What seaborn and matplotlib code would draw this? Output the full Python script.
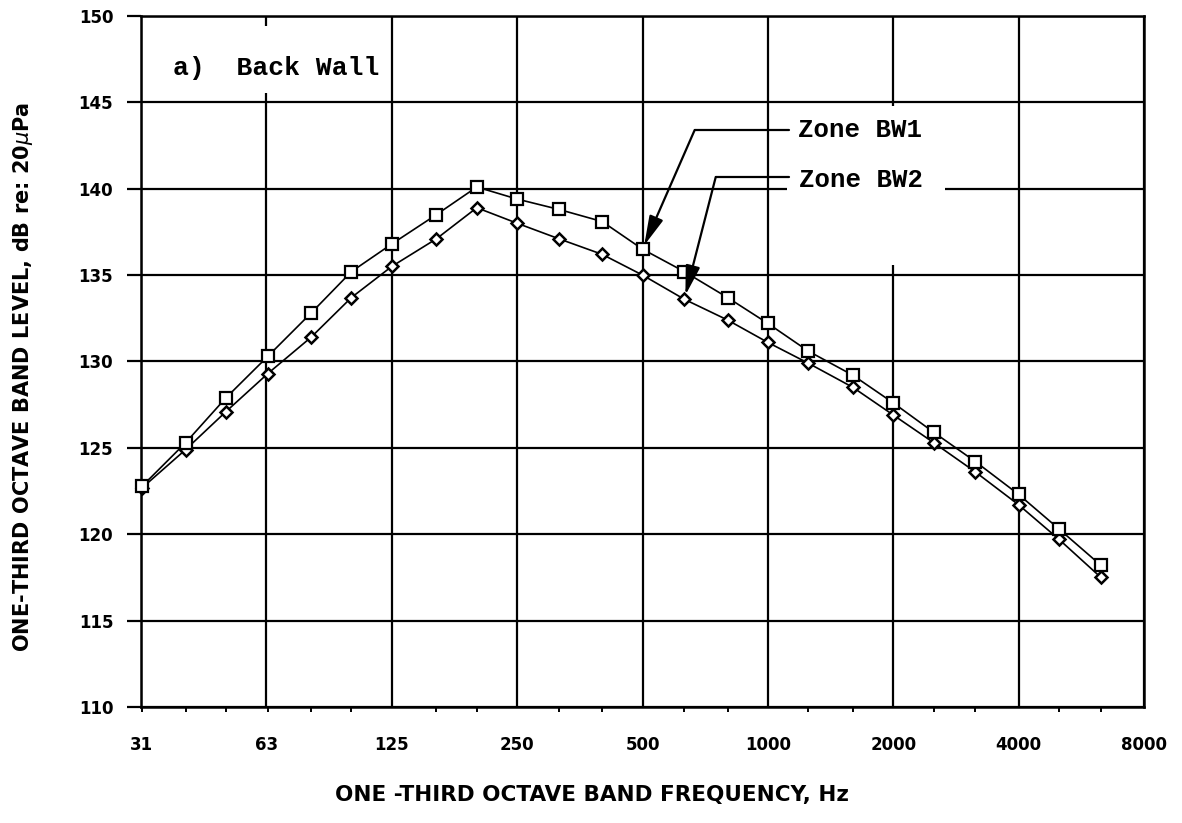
import numpy as np
import pandas as pd
import matplotlib
matplotlib.use('Agg')
import matplotlib.pyplot as plt
from matplotlib.patches import Rectangle
import seaborn as sns

# one-third octave band centre frequencies (Hz)
freqs = [31.5, 40, 50, 63, 80, 100, 125, 160, 200, 250, 315, 400,
         500, 630, 800, 1000, 1250, 1600, 2000, 2500, 3150, 4000, 5000, 6300]

# band levels, dB re 20 uPa
bw1 = [122.8, 125.3, 127.9, 130.3, 132.8, 135.2, 136.8, 138.5, 140.1, 139.4, 138.8, 138.1,
       136.5, 135.2, 133.7, 132.2, 130.6, 129.2, 127.6, 125.9, 124.2, 122.3, 120.3, 118.2]
bw2 = [122.7, 124.9, 127.1, 129.3, 131.4, 133.7, 135.5, 137.1, 138.9, 138.0, 137.1, 136.2,
       135.0, 133.6, 132.4, 131.1, 129.9, 128.5, 126.9, 125.3, 123.6, 121.7, 119.7, 117.5]

octave_ticks = [31.25, 62.5, 125, 250, 500, 1000, 2000, 4000, 8000]
octave_labels = ['31', '63', '125', '250', '500', '1000', '2000', '4000', '8000']
y_ticks = [110, 115, 120, 125, 130, 135, 140, 145, 150]

df = pd.DataFrame({'freq': freqs, 'BW1': bw1, 'BW2': bw2})

sns.set_style('white')
plt.rcParams['font.family'] = ['DejaVu Sans']
plt.rcParams['text.color'] = 'black'
plt.rcParams['axes.labelcolor'] = 'black'

fig = plt.figure(figsize=(11.82, 8.23), dpi=100)
ax = fig.add_axes([0.1193, 0.1410, 0.8486, 0.8396])

# lines + markers
sns.lineplot(data=df, x='freq', y='BW2', ax=ax, color='black', lw=1.2,
             marker='D', markersize=6, markerfacecolor='white',
             markeredgecolor='black', markeredgewidth=1.8, clip_on=False, zorder=3)
sns.lineplot(data=df, x='freq', y='BW1', ax=ax, color='black', lw=1.2,
             marker='s', markersize=9, markerfacecolor='white',
             markeredgecolor='black', markeredgewidth=1.6, clip_on=False, zorder=4)

ax.set_xscale('log', base=2)
ax.set_xlim(31.25, 8000)
ax.set_ylim(110, 150)
ax.set_xticks(octave_ticks)
ax.set_xticklabels(octave_labels)
ax.set_xticks(freqs + [8000], minor=True)
ax.xaxis.set_minor_formatter(matplotlib.ticker.NullFormatter())
ax.set_yticks(y_ticks)
ax.set_yticklabels([str(v) for v in y_ticks])

ax.grid(True, which='major', color='black', lw=1.6)
ax.set_axisbelow(True)
for s in ax.spines.values():
    s.set_color('black')
    s.set_linewidth(1.8)

ax.tick_params(axis='x', which='major', direction='out', length=8, width=1.6,
               pad=13, labelsize=12, colors='black')
ax.tick_params(axis='x', which='minor', direction='out', length=3.5, width=1.4,
               bottom=True, colors='black')
ax.tick_params(axis='y', which='major', direction='out', length=10, width=1.6,
               pad=10, labelsize=12, colors='black', left=True)
for lab in ax.get_xticklabels() + ax.get_yticklabels():
    lab.set_fontweight('bold')

ax.set_xlabel('ONE -THIRD OCTAVE BAND FREQUENCY, Hz', fontsize=15.5, fontweight='bold')
ax.set_ylabel('ONE-THIRD OCTAVE BAND LEVEL, dB re: 20$\\mu$Pa', fontsize=15, fontweight='bold')
ax.xaxis.set_label_coords(0.45, -0.113)
ax.yaxis.set_label_coords(-0.106, 0.477)

# white areas behind the texts
ax.add_patch(Rectangle((0.004, 0.889), 0.204, 0.096, transform=ax.transAxes,
                       facecolor='white', edgecolor='none', zorder=1))
ax.add_patch(Rectangle((0.644, 0.640), 0.158, 0.230, transform=ax.transAxes,
                       facecolor='white', edgecolor='none', zorder=1))

mono = 'Liberation Mono'
ax.text(0.032, 0.925, 'a)  Back Wall', transform=ax.transAxes, fontsize=19,
        family=mono, fontweight='bold', va='center', ha='left', color='black', zorder=5)
ax.text(0.655, 0.835, 'Zone BW1', transform=ax.transAxes, fontsize=18.5,
        family=mono, fontweight='bold', va='center', ha='left', color='black', zorder=5)
ax.text(0.656, 0.763, 'Zone BW2', transform=ax.transAxes, fontsize=18.5,
        family=mono, fontweight='bold', va='center', ha='left', color='black', zorder=5)

# leader lines
ax.plot([0.552, 0.646], [0.835, 0.835], transform=ax.transAxes, color='black', lw=1.6, zorder=5)
ax.plot([0.573, 0.646], [0.767, 0.767], transform=ax.transAxes, color='black', lw=1.6, zorder=5)
arrow = dict(arrowstyle='-|>,head_length=0.9,head_width=0.22', color='black', lw=1.6,
             mutation_scale=20, shrinkA=0, shrinkB=3)
ax.annotate('', xy=(freqs[12], bw1[12]), xycoords='data',
            xytext=(0.552, 0.835), textcoords='axes fraction', arrowprops=arrow, zorder=5)
ax.annotate('', xy=(freqs[13], bw2[13]), xycoords='data',
            xytext=(0.573, 0.767), textcoords='axes fraction', arrowprops=arrow, zorder=5)

fig.savefig('out.png', dpi=100, facecolor='white')
